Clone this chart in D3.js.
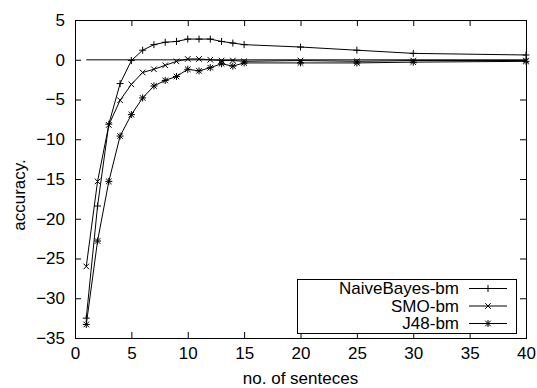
<!DOCTYPE html>
<html>
<head>
<meta charset="utf-8">
<script src="https://cdn.jsdelivr.net/npm/d3@7"></script>
<style>
  html, body { margin: 0; padding: 0; background: #fff; }
  svg { display: block; }
  text { font-family: "Liberation Sans", Arial, sans-serif; fill: #000; }
</style>
</head>
<body>
<svg id="chart" width="537" height="388"></svg>
<script>
// ---- data ----
const sentences = [1, 2, 3, 4, 5, 6, 7, 8, 9, 10, 11, 12, 13, 14, 15, 20, 25, 30, 40];
const naiveBayes = [-32.5, -18.4, -8.1, -3.0, -0.1, 1.2, 1.9, 2.2, 2.3, 2.6, 2.6, 2.6, 2.3, 2.1, 1.9, 1.6, 1.2, 0.8, 0.6];
const smo = [-26.0, -15.3, -8.2, -5.1, -3.1, -1.6, -1.2, -0.7, -0.2, 0.1, 0.1, 0.0, -0.1, -0.1, -0.2, -0.1, -0.2, -0.1, -0.1];
const j48 = [-33.3, -22.8, -15.3, -9.6, -6.9, -4.8, -3.3, -2.6, -2.1, -1.2, -1.4, -1.0, -0.5, -0.8, -0.4, -0.4, -0.4, -0.3, -0.2];
const seriesNames = ["NaiveBayes-bm", "SMO-bm", "J48-bm"];
const seriesMarkers = ["plus", "cross", "star"];
const xTicks = [0, 5, 10, 15, 20, 25, 30, 35, 40];
const yTicks = [5, 0, -5, -10, -15, -20, -25, -30, -35];
const xTitle = "no. of senteces";
const yTitle = "accuracy.";

// ---- layout ----
const svg = d3.select("#chart");
const L = 75, R = 526, T = 20, B = 338;
const FS = 17;

const x = d3.scaleLinear().domain([0, 40]).range([L, R]);
const y = d3.scaleLinear().domain([-35, 5]).range([B, T]);

// axes (gnuplot style: inward ticks, mirrored)
const gx = svg.append("g").attr("transform", `translate(0,${B})`)
  .call(d3.axisBottom(x).tickValues(xTicks).tickSizeInner(-6).tickSizeOuter(0).tickPadding(9));
const gy = svg.append("g").attr("transform", `translate(${L},0)`)
  .call(d3.axisLeft(y).tickValues(yTicks).tickSizeInner(-6).tickSizeOuter(0).tickPadding(10));
const gxt = svg.append("g").attr("transform", `translate(0,${T})`)
  .call(d3.axisTop(x).tickValues(xTicks.slice(1, -1)).tickSizeInner(-6).tickSizeOuter(0).tickFormat(""));
const gyr = svg.append("g").attr("transform", `translate(${R},0)`)
  .call(d3.axisRight(y).tickValues(yTicks.slice(1, -1)).tickSizeInner(-6).tickSizeOuter(0).tickFormat(""));
[gx, gy, gxt, gyr].forEach(g => {
  g.select(".domain").remove();
  g.selectAll("line").attr("stroke", "#000").attr("stroke-width", 1);
  g.selectAll("text").attr("font-size", FS).attr("font-family", '"Liberation Sans", Arial, sans-serif').attr("fill", "#000");
});
// remove ticks at the corners of bottom/left
gx.selectAll(".tick").filter(d => d === 0 || d === 40).select("line").remove();
gy.selectAll(".tick").filter(d => d === 5 || d === -35).select("line").remove();

// border
svg.append("rect").attr("x", L + 0.5).attr("y", T + 0.5)
  .attr("width", R - L).attr("height", B - T)
  .attr("fill", "none").attr("stroke", "#000").attr("stroke-width", 1);

// titles
svg.append("text").attr("x", (L + R) / 2 + 0).attr("y", 384)
  .attr("text-anchor", "middle").attr("font-size", FS).text(xTitle);
svg.append("text").attr("transform", `translate(25,${(T + B) / 2 + 16}) rotate(-90)`)
  .attr("text-anchor", "middle").attr("font-size", FS).text(yTitle);

// zero line
svg.append("line").attr("x1", x(1)).attr("x2", x(40)).attr("y1", y(0)).attr("y2", y(0))
  .attr("stroke", "#555").attr("stroke-width", 1.3);

// markers
function marker(g, kind, cx, cy) {
  const s = 3.5;
  const p = d3.path();
  if (kind === "plus" || kind === "star") {
    p.moveTo(cx - s, cy); p.lineTo(cx + s, cy);
    p.moveTo(cx, cy - s); p.lineTo(cx, cy + s);
  }
  if (kind === "cross" || kind === "star") {
    const c = s * 0.8;
    p.moveTo(cx - c, cy - c); p.lineTo(cx + c, cy + c);
    p.moveTo(cx - c, cy + c); p.lineTo(cx + c, cy - c);
  }
  g.append("path").attr("d", p.toString()).attr("stroke", "#000").attr("stroke-width", 1).attr("fill", "none");
}

const allSeries = [naiveBayes, smo, j48];
const line = d3.line().x(d => x(d[0])).y(d => y(d[1]));
allSeries.forEach((vals, i) => {
  const pts = sentences.map((s, k) => [s, vals[k]]);
  const g = svg.append("g");
  g.append("path").attr("d", line(pts)).attr("fill", "none").attr("stroke", "#000").attr("stroke-width", 1);
  pts.forEach(p => marker(g, seriesMarkers[i], x(p[0]), y(p[1])));
});

// legend
const lg = svg.append("g");
lg.append("rect").attr("x", 297.5).attr("y", 279.5).attr("width", 219).attr("height", 54)
  .attr("fill", "#fff").attr("stroke", "#000").attr("stroke-width", 1);
const rowY = [288.5, 306, 323.5];
seriesNames.forEach((name, i) => {
  lg.append("text").attr("x", 459).attr("y", rowY[i]).attr("dy", "0.35em")
    .attr("text-anchor", "end").attr("font-size", FS).text(name);
  lg.append("line").attr("x1", 469).attr("x2", 507).attr("y1", rowY[i]).attr("y2", rowY[i])
    .attr("stroke", "#000").attr("stroke-width", 1);
  marker(lg, seriesMarkers[i], 488, rowY[i]);
});
</script>
</body>
</html>
